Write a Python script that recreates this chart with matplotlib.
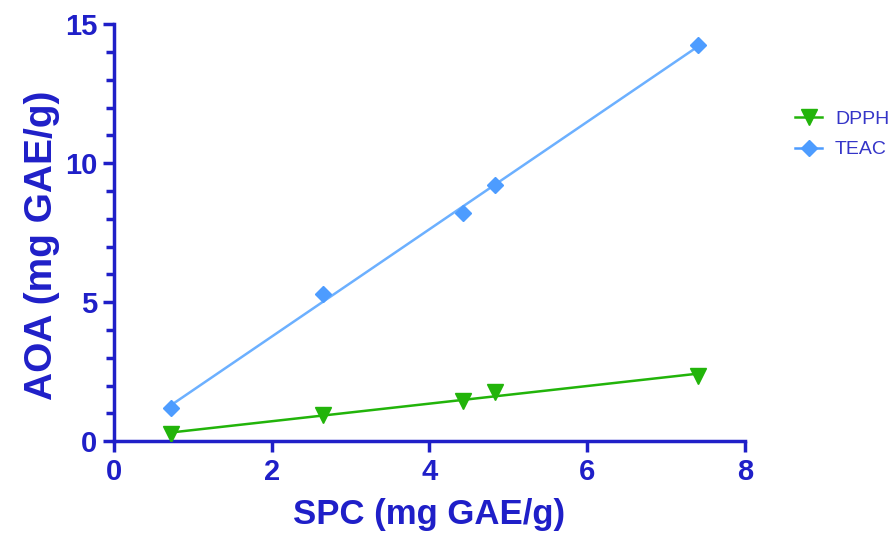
import numpy as np
import matplotlib.pyplot as plt
from matplotlib.ticker import MultipleLocator

plt.rcParams['font.family'] = ['Liberation Sans', 'DejaVu Sans']

# Data
spc = [0.72, 2.65, 4.42, 4.83, 7.40]
dpph = [0.25, 0.95, 1.45, 1.75, 2.35]
teac = [1.20, 5.30, 8.20, 9.20, 14.25]

navy = '#1f1fc8'
green = '#22b40a'
blue_line = '#6cb0ff'
blue_mark = '#4d9cff'

fig = plt.figure(figsize=(8.91, 5.36), dpi=100)
ax = fig.add_axes([0.128, 0.177, 0.708, 0.778])

x = np.array(spc)
xs = np.array([x.min(), x.max()])

# DPPH: points and linear fit
k, b = np.polyfit(x, dpph, 1)
ax.plot(xs, k * xs + b, color=green, lw=1.8, zorder=2)
ax.plot(x, dpph, 'v', color=green, ms=11, zorder=3)
# TEAC: points and linear fit
k, b = np.polyfit(x, teac, 1)
ax.plot(xs, k * xs + b, color=blue_line, lw=1.8, zorder=2)
ax.plot(x, teac, 'D', color=blue_mark, ms=8, zorder=3)

# legend handles
h1, = ax.plot([], [], '-v', color=green, ms=11, lw=1.8, label='DPPH')
h2, = ax.plot([], [], '-D', color=blue_mark, ms=8, lw=1.8, label='TEAC')
leg = ax.legend(handles=[h1, h2], loc='upper left', bbox_to_anchor=(1.055, 0.83),
                frameon=False, handlelength=1.4, handletextpad=0.65, labelspacing=0.65,
                borderpad=0.3, prop={'size': 14})
for t in leg.get_texts():
    t.set_color('#3535c8')

ax.set_xlim(0, 8)
ax.set_ylim(0, 15)
ax.xaxis.set_major_locator(MultipleLocator(2))
ax.yaxis.set_major_locator(MultipleLocator(5))
ax.yaxis.set_minor_locator(MultipleLocator(1))

for s in ['top', 'right']:
    ax.spines[s].set_visible(False)
for s in ['left', 'bottom']:
    ax.spines[s].set_color(navy)
    ax.spines[s].set_linewidth(2.5)

ax.tick_params(which='major', direction='out', length=8, width=2.5, colors=navy,
               labelsize=21, pad=4)
ax.tick_params(which='minor', direction='out', length=6, width=2.5, colors=navy)
ax.tick_params(axis='x', which='minor', length=0)
for lab in ax.get_xticklabels() + ax.get_yticklabels():
    lab.set_fontweight('bold')

ax.set_xlabel('SPC (mg GAE/g)', fontsize=25, fontweight='bold', color=navy, labelpad=9)
ax.set_ylabel('AOA (mg GAE/g)', fontsize=28, fontweight='bold', color=navy)
ax.yaxis.set_label_coords(-0.085, 0.47)

fig.savefig('out.png', dpi=100)
